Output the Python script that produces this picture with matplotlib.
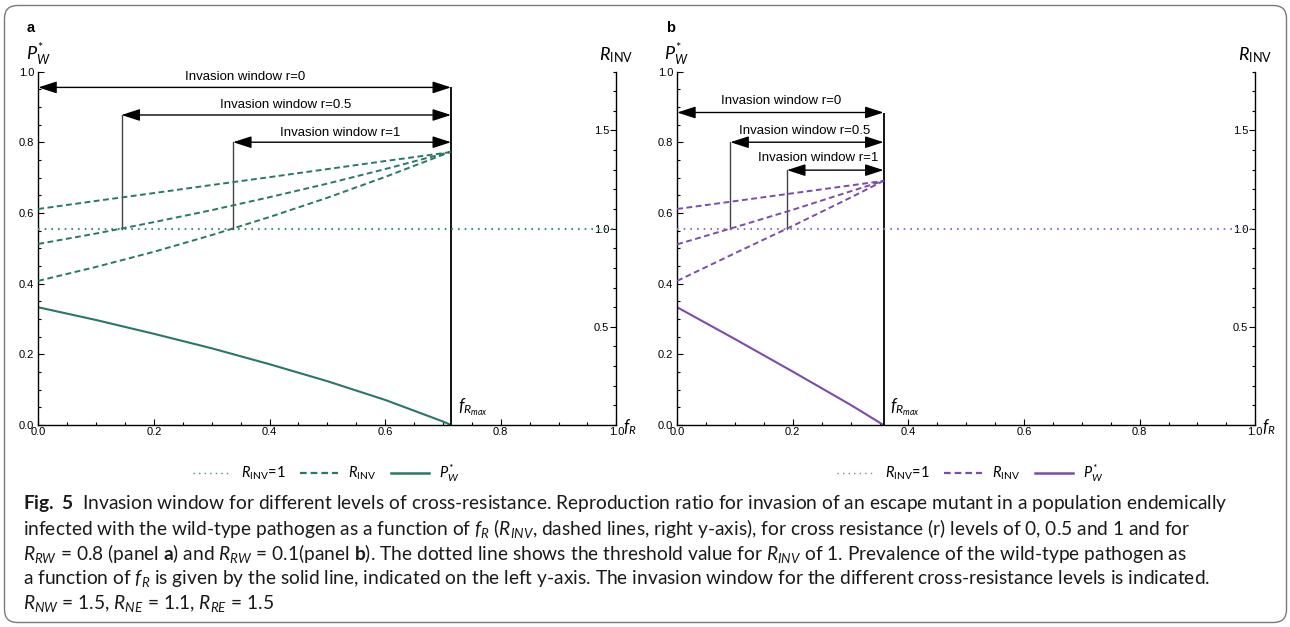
import numpy as np
import matplotlib
matplotlib.use("Agg")
import matplotlib.pyplot as plt
from matplotlib import font_manager as fm
from matplotlib.lines import Line2D
from matplotlib.patches import FancyBboxPatch
from matplotlib.ticker import MultipleLocator, FormatStrFormatter

# ---------------- data ----------------
f_a = [0.0, 0.1, 0.2, 0.3, 0.4, 0.5, 0.6, 0.7, 0.714]
pw_a = [0.333, 0.297, 0.258, 0.217, 0.172, 0.124, 0.071, 0.010, 0.0]
rinv_a_r0 = [1.100, 1.141, 1.181, 1.222, 1.262, 1.303, 1.344, 1.384, 1.390]
rinv_a_r05 = [0.922, 0.975, 1.033, 1.094, 1.160, 1.229, 1.303, 1.381, 1.392]
rinv_a_r1 = [0.734, 0.805, 0.882, 0.967, 1.059, 1.157, 1.263, 1.376, 1.392]
cross_a = [0.0, 0.144, 0.337]          # start of invasion windows r=0, 0.5, 1
fmax_a = 0.714

f_b = [0.0, 0.1, 0.2, 0.3, 0.357]
pw_b = [0.333, 0.243, 0.151, 0.057, 0.0]
rinv_b_r0 = [1.100, 1.140, 1.180, 1.220, 1.243]
rinv_b_r05 = [0.920, 1.007, 1.096, 1.190, 1.243]
rinv_b_r1 = [0.734, 0.875, 1.014, 1.158, 1.243]
cross_b = [0.0, 0.092, 0.19]
fmax_b = 0.357

r_levels = ["0", "0.5", "1"]
threshold = 1.0
x_ticks = [0.0, 0.2, 0.4, 0.6, 0.8, 1.0]
left_ticks = [0.0, 0.2, 0.4, 0.6, 0.8, 1.0]
right_ticks = [0.5, 1.0, 1.5]

# ---------------- fonts ----------------
def has_font(name):
    try:
        fm.findfont(fm.FontProperties(family=name), fallback_to_default=False)
        return True
    except Exception:
        return False

CAP = "Liberation Sans Narrow" if has_font("Liberation Sans Narrow") else "Lato"
AX = "Liberation Sans" if has_font("Liberation Sans") else "DejaVu Sans"

plt.rcParams["font.family"] = [AX, "DejaVu Sans"]
plt.rcParams["mathtext.fontset"] = "custom"
plt.rcParams["mathtext.rm"] = CAP
plt.rcParams["mathtext.it"] = CAP + ":italic"
plt.rcParams["mathtext.bf"] = CAP + ":bold"

W, H = 1290, 627
fig = plt.figure(figsize=(W / 100, H / 100), dpi=100)

# background frame
bg = fig.add_axes([0, 0, 1, 1], zorder=-5)
bg.set_xlim(0, W)
bg.set_ylim(H, 0)
bg.axis("off")
bg.add_patch(FancyBboxPatch((4.5, 5.5), W - 8, H - 10,
                            boxstyle="round,pad=0,rounding_size=13",
                            fc="none", ec="#7a7a7a", lw=1.0))

TEAL = "#28786a"
TEAL_L = "#3f8f80"
PURP = "#7d4cab"
PURP_L = "#9a72c0"


def panel(left_px, letter, color, color_l, f, pw, r0, r05, r1, cross, fmax,
          win_y, label_pos):
    ax = fig.add_axes([left_px / W, (H - 425) / H, 578 / W, 353.5 / H])
    ax2 = ax.twinx()
    ax.set_xlim(0, 1)
    ax.set_ylim(0, 1)
    ax2.set_ylim(0, 1.8)

    for s in ["top", "right"]:
        ax.spines[s].set_visible(False)
    for s in ["top", "left", "bottom"]:
        ax2.spines[s].set_visible(False)
    for sp in list(ax.spines.values()) + list(ax2.spines.values()):
        sp.set_linewidth(1.0)

    ax.set_xticks(x_ticks)
    ax.xaxis.set_minor_locator(MultipleLocator(0.05))
    ax.set_yticks(left_ticks)
    ax.yaxis.set_minor_locator(MultipleLocator(0.05))
    ax.xaxis.set_major_formatter(FormatStrFormatter("%.1f"))
    ax.yaxis.set_major_formatter(FormatStrFormatter("%.1f"))
    ax.tick_params(which="both", direction="in", top=False, right=False,
                   labelsize=8, width=0.8)
    ax.tick_params(which="major", length=4.5)
    ax.tick_params(which="minor", length=2.4)
    ax.tick_params(axis="x", pad=1.5)
    ax.tick_params(axis="y", pad=3)

    ax2.set_yticks(right_ticks)
    ax2.yaxis.set_minor_locator(MultipleLocator(0.1))
    ax2.yaxis.set_major_formatter(FormatStrFormatter("%.1f"))
    ax2.tick_params(axis="y", which="both", direction="in", left=False,
                    right=True, labelsize=8, width=0.8, pad=-5)
    ax2.tick_params(axis="y", which="major", length=4.5)
    ax2.tick_params(axis="y", which="minor", length=2.4)
    for lab in ax2.get_yticklabels():
        lab.set_horizontalalignment("right")

    # curves
    ax.plot(f, pw, color=color, lw=1.5, solid_capstyle="butt")
    ax2.plot([0, 1], [threshold, threshold], color=color_l, lw=1.5,
             dashes=(0.8, 2.4))
    for rr in (r0, r05, r1):
        ax2.plot(f, rr, color=color, lw=1.4, dashes=(3, 1.8))

    thr_left = threshold / 1.8
    # fmax vertical line
    ax.plot([fmax, fmax], [0, win_y[0]], color="black", lw=1.3,
            solid_capstyle="butt")
    for i, (c, y) in enumerate(zip(cross, win_y)):
        if c > 0:
            ax.plot([c, c], [thr_left, y], color="#444444", lw=1.0)
        ax.annotate("", xy=(fmax, y), xytext=(c, y),
                    arrowprops=dict(arrowstyle="<|-|>,head_length=0.8,head_width=0.26",
                                    color="black", lw=1.0, mutation_scale=14,
                                    shrinkA=0, shrinkB=0))
        lx, ly = label_pos[i]
        ax.text(lx, ly, "Invasion window r=" + r_levels[i], ha="center",
                va="center", fontsize=9.5)

    ax.text(fmax + 0.012, 0.05, r"$f_{R_{max}}$", ha="left", va="center",
            fontsize=12.5)
    ax.text(1.012, -0.005, r"$f_R$", transform=ax.transAxes, ha="left",
            va="center", fontsize=12)
    ax.text(-0.022, 1.047, r"$P_W^{*}$", transform=ax.transAxes, ha="left",
            va="center", fontsize=13)
    ax.text(1.0, 1.047, r"$R_{\mathrm{INV}}$", transform=ax.transAxes,
            ha="center", va="center", fontsize=13)
    fig.text((left_px - 11.5) / W, 1 - 28 / H, letter, fontweight="bold",
             fontsize=10.5, ha="left", va="center")
    return ax


panel(38.3, "a", TEAL, TEAL_L, f_a, pw_a, rinv_a_r0, rinv_a_r05, rinv_a_r1,
      cross_a, fmax_a, [0.955, 0.877, 0.80],
      [(0.357, 0.984), (0.428, 0.905), (0.523, 0.827)])
panel(677.2, "b", PURP, PURP_L, f_b, pw_b, rinv_b_r0, rinv_b_r05, rinv_b_r1,
      cross_b, fmax_b, [0.884, 0.80, 0.721],
      [(0.18, 0.916), (0.221, 0.833), (0.244, 0.755)])

# legends
for cx, col, col_l in [(326, TEAL, TEAL_L), (970, PURP, PURP_L)]:
    handles = [Line2D([], [], color=col_l, lw=1.0, dashes=(1, 3)),
               Line2D([], [], color=col, lw=1.6, dashes=(3, 1.8)),
               Line2D([], [], color=col, lw=1.8)]
    labels = [r"$R_{\mathrm{INV}}$=1", r"$R_{\mathrm{INV}}$", r"$P_W^{*}$"]
    fig.legend(handles, labels, loc="center", bbox_to_anchor=(cx / W, 1 - 473 / H),
               ncol=3, frameon=False, handlelength=2.6,
               handletextpad=0.7, columnspacing=1.0,
               prop={"family": CAP, "size": 10.5})

# caption
cap_lines = [
    r"$\mathbf{Fig.\ 5}$  Invasion window for different levels of cross-resistance. Reproduction ratio for invasion of an escape mutant in a population endemically",
    r"infected with the wild-type pathogen as a function of $f_R$ ($R_{INV}$, dashed lines, right y-axis), for cross resistance (r) levels of 0, 0.5 and 1 and for",
    r"$R_{RW}$ = 0.8 (panel $\mathbf{a}$) and $R_{RW}$ = 0.1(panel $\mathbf{b}$). The dotted line shows the threshold value for $R_{INV}$ of 1. Prevalence of the wild-type pathogen as",
    r"a function of $f_R$ is given by the solid line, indicated on the left y-axis. The invasion window for the different cross-resistance levels is indicated.",
    r"$R_{NW}$ = 1.5, $R_{NE}$ = 1.1, $R_{RE}$ = 1.5",
]
texts = []
for i, line in enumerate(cap_lines):
    t = fig.text(23 / W, 1 - (504 + 24.8 * i) / H, line, ha="left",
                 va="center", fontsize=12, family=CAP, color="#1a1a1a")
    texts.append(t)
fig.canvas.draw()
r = fig.canvas.get_renderer()
w0 = texts[0].get_window_extent(r).width
fs = 12 * 1203 / w0
for t in texts:
    t.set_fontsize(fs)

fig.savefig("out.png", dpi=100)
